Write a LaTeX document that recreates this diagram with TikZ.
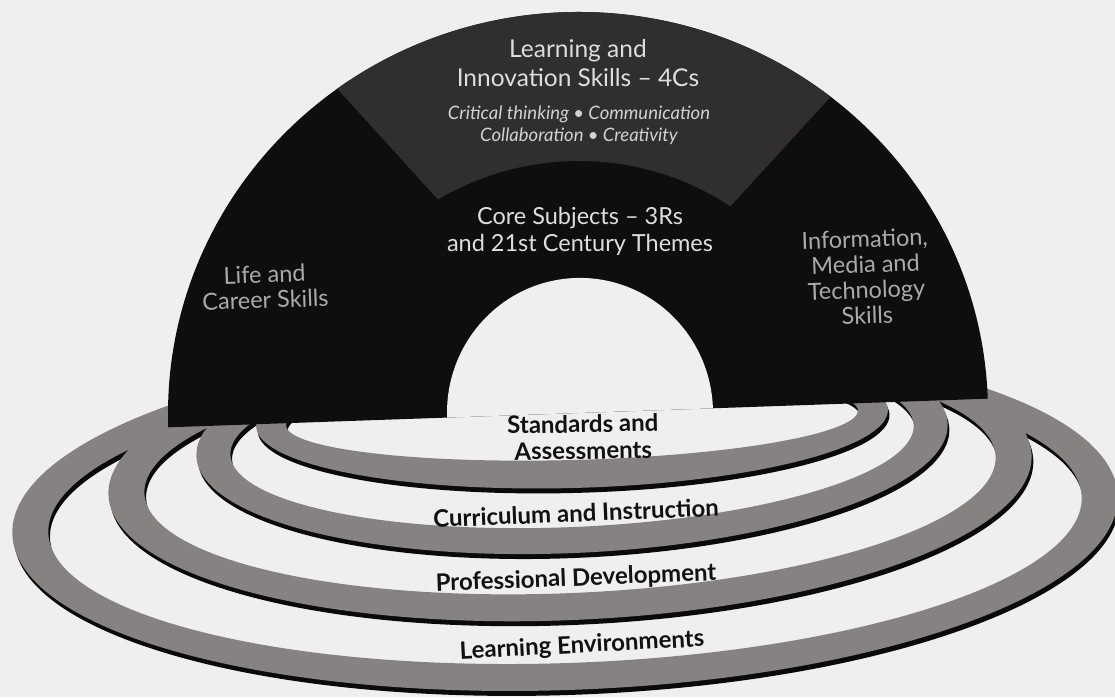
\documentclass[tikz,border=0pt]{standalone}
\usepackage{fontspec}
\setmainfont{Lato}
\begin{document}
\begin{tikzpicture}[x=1pt,y=1pt]
\definecolor{paper}{RGB}{239,239,239}
\definecolor{archblack}{RGB}{14,14,14}
\definecolor{wedgegray}{RGB}{48,46,46}
\definecolor{ringgray}{RGB}{134,130,130}
\definecolor{ringshadow}{RGB}{10,10,10}
\definecolor{archtext}{RGB}{222,222,222}
\definecolor{fourcstext}{RGB}{210,210,210}
\definecolor{sidetext}{RGB}{170,170,170}
\definecolor{basetext}{RGB}{17,17,17}
\tikzset{
  toplabel/.style={text=archtext, inner sep=0pt, align=center,
    font=\fontsize{24.5}{29.5}\selectfont},
  fourcs/.style={text=fourcstext, inner sep=0pt, align=center,
    font=\fontsize{18.5}{22}\selectfont\itshape},
  corelabel/.style={text=archtext, inner sep=0pt, align=center,
    font=\fontsize{23.5}{27}\selectfont},
  sidelabel/.style={text=sidetext, inner sep=0pt, rotate=2, align=center,
    font=\fontsize{23.5}{25.5}\selectfont},
  poollabel/.style={text=basetext, inner sep=0pt, align=center,
    font=\fontsize{24}{26.5}\selectfont\bfseries},
}
% one support ring: centre x, centre y, x radius, y radius, tilt, band width x, band width y
\newcommand\ringband[7]{%
  \fill[ringshadow, even odd rule, rotate around={#5:(#1,#2)}, shift={(1.5,-5)}]
    (#1,#2) ellipse [x radius=#3, y radius=#4]
    (#1,#2) ellipse [x radius=#3-#6, y radius=#4-#7];
  \fill[ringgray, even odd rule, rotate around={#5:(#1,#2)}]
    (#1,#2) ellipse [x radius=#3, y radius=#4]
    (#1,#2) ellipse [x radius=#3-#6, y radius=#4-#7];
}
\fill[paper] (0,0) rectangle (1115,697);
\useasboundingbox (0,0) rectangle (1115,697);

% support systems, outermost first
\ringband{565}{182}{553}{175}{2}{36}{27}
\ringband{570}{222}{462}{145}{2.5}{36}{27}
\ringband{572}{257}{376}{113}{2.5}{34}{26}
\ringband{572}{279}{316}{70}{1.5}{30}{28}

% the rainbow of student outcomes
\begin{scope}[rotate around={2:(578,284)}]
  \fill[archblack] (168,284) arc[start angle=180, end angle=0, x radius=410, y radius=401] -- cycle;
  \fill[paper] (447,284) arc[start angle=180, end angle=0, x radius=133, y radius=135] -- cycle;
  \fill[wedgegray] (578,284) ++(50:410 and 401)
    arc[start angle=50, end angle=124, x radius=410, y radius=401]
    -- ([shift={(120:265 and 252)}]578,284)
    arc[start angle=120, end angle=53, x radius=265, y radius=252] -- cycle;
\end{scope}

% outcome labels
\node[toplabel] (lis) at (578,634) {Learning and\\Innovation Skills – 4Cs};
\node[fourcs] (cc) at (579,572) {Critical thinking • Communication\\Collaboration • Creativity};
\node[corelabel] (core) at (580,466) {Core Subjects – 3Rs\\and 21st Century Themes};
\node[sidelabel] (life) at (265,410) {Life and\\Career Skills};
\node[sidelabel] (imt) at (866,420) {Information,\\Media and\\Technology\\Skills};

% support system labels
\node[poollabel, rotate=1] (std) at (583,260) {Standards and\\Assessments};
\node[poollabel, rotate=2.3] (cur) at (576,184) {Curriculum and Instruction};
\node[poollabel, rotate=2.2] (pro) at (576,118) {Professional Development};
\node[poollabel, rotate=3] (env) at (582,51) {Learning Environments};
\end{tikzpicture}
\end{document}
